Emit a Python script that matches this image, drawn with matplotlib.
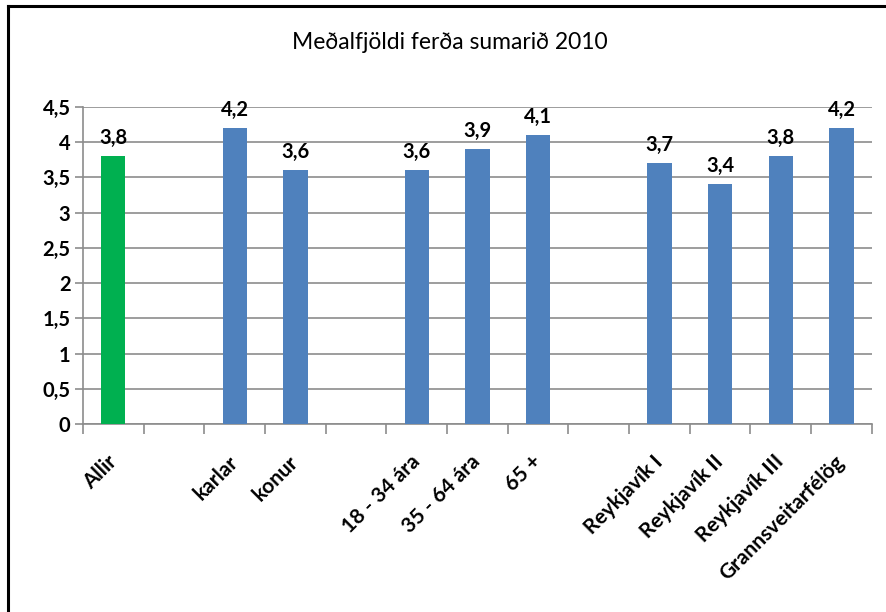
#!/usr/bin/env python3
# -*- coding: utf-8 -*-
import matplotlib
matplotlib.use("Agg")
import matplotlib.pyplot as plt
from matplotlib.lines import Line2D
import numpy as np

#===================================================================================#
## data
categories = ["Allir", "", "karlar", "konur", "", "18 - 34 ára", "35 - 64 ára", "65 +",
              "", "Reykjavík I", "Reykjavík II", "Reykjavík III", "Grannsveitarfélög"]
values = [3.8, None, 4.2, 3.6, None, 3.6, 3.9, 4.1, None, 3.7, 3.4, 3.8, 4.2]
y_ticks = [0, 0.5, 1, 1.5, 2, 2.5, 3, 3.5, 4, 4.5]
title = "Meðalfjöldi ferða sumarið 2010"

## style
green = "#00B050"
blue = "#4F81BD"
grid_c = "#8C8C8C"
plt.rcParams['font.family'] = ['Lato', 'DejaVu Sans']

#===================================================================================#
def fmt(v):
    return ("%g" % v).replace(".", ",")

def main():
    fig = plt.figure(figsize=(8.86, 6.12), dpi=100)
    ax = fig.add_axes([0.0937, 0.3072, 0.8903, 0.518])

    x = np.arange(len(categories))
    for i, v in enumerate(values):
        if v is None:
            continue
        c = green if i == 0 else blue
        ax.bar(x[i], v, width=0.4, color=c, zorder=3)
        ax.annotate(fmt(v), (x[i], v), xytext=(0, 6), textcoords="offset points",
                    ha="center", va="bottom", fontsize=14.5, fontweight="bold")

    ax.set_xlim(-0.5, len(categories) - 0.5)
    ax.set_ylim(0, 4.5)
    ax.set_yticks(y_ticks)
    ax.set_yticklabels([fmt(t) for t in y_ticks], fontsize=14.5, fontweight="bold")
    ax.yaxis.grid(True, color=grid_c, linewidth=1.2, zorder=0)
    ax.tick_params(axis="y", length=6, color=grid_c, width=1.2, pad=3)

    ax.set_xticks(x)
    ax.set_xticklabels(categories, rotation=45, ha="right", va="center",
                       rotation_mode="anchor", fontsize=15, fontweight="bold")
    ax.tick_params(axis="x", which="major", length=0, pad=25)
    ax.set_xticks(np.arange(len(categories) + 1) - 0.5, minor=True)
    ax.tick_params(axis="x", which="minor", length=7, color=grid_c, width=1.2)

    for s in ["top", "right"]:
        ax.spines[s].set_visible(False)
    for s in ["left", "bottom"]:
        ax.spines[s].set_color(grid_c)
        ax.spines[s].set_linewidth(1.2)

    fig.text(0.508, 0.931, title, ha="center", va="center", fontsize=16.5)

    # chart border (top and left visible)
    W, H = 886.0, 612.0
    fig.add_artist(Line2D([8 / W, 1], [1 - 6 / H, 1 - 6 / H], color="black", linewidth=2.2,
                          transform=fig.transFigure))
    fig.add_artist(Line2D([8 / W, 8 / W], [0, 1 - 6 / H], color="black", linewidth=2.2,
                          transform=fig.transFigure))

    fig.savefig("out.png", dpi=100)

#===================================================================================#
if __name__ == '__main__':
    main()
